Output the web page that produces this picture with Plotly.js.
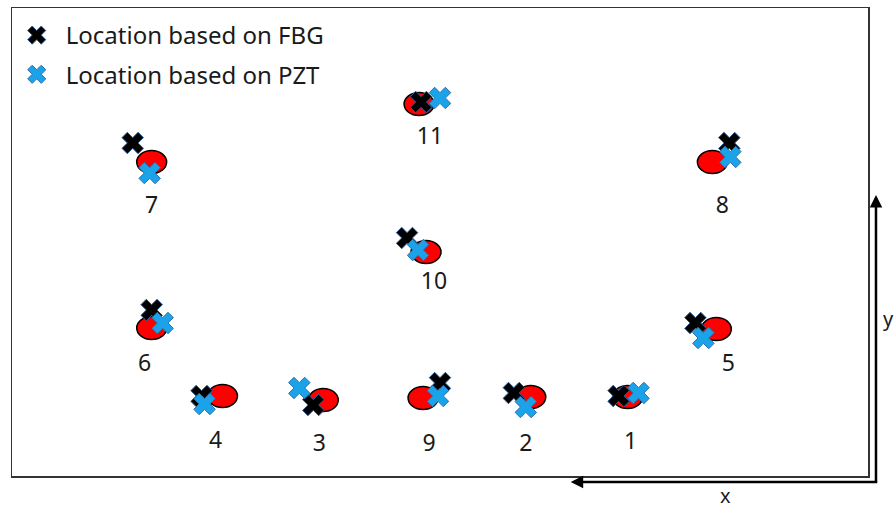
<!DOCTYPE html>
<html>
<head>
<meta charset="utf-8">
<script src="https://cdn.plot.ly/plotly-3.0.1.min.js"></script>
<style>html,body{margin:0;padding:0;background:#fff;}#chart{width:896px;height:509px;}</style>
</head>
<body>
<div id="chart"></div>
<script>
// Impact point numbers
const pointIds = ['1','2','3','4','5','6','7','8','9','10','11'];
// Actual impact locations (red ellipses)
const trueX = [617, 520, 312, 211, 706, 140, 140, 702, 412, 415, 408];
const trueY = [79, 79, 76, 80, 147, 148, 314, 314, 78, 224, 372];
// Location based on FBG
const fbgX = [608, 503, 302, 190, 685, 140, 121, 719, 429, 396, 410];
const fbgY = [80, 83, 71, 80, 153, 166, 333, 333, 93, 238, 374];
// Location based on PZT
const pztX = [628, 515, 288, 193, 693, 151, 138, 720, 427, 407, 429];
const pztY = [83, 69, 88, 72, 138, 153, 303, 319, 80, 226, 378];
// Label anchor positions
const labelX = [620, 515, 308, 204, 718, 133, 140, 712, 418, 423, 419];
const labelY = [33, 31, 31, 34, 111, 111, 269, 269, 31, 193, 338];

const ellW = 15, ellH = 11.5;
const shapes = trueX.map((x, i) => ({
  type: 'circle', xref: 'x', yref: 'y', layer: 'below',
  x0: x - ellW, x1: x + ellW, y0: trueY[i] - ellH, y1: trueY[i] + ellH,
  fillcolor: '#ff0000', line: {color: '#000000', width: 1.5}
}));

const traces = [
  {x: fbgX, y: fbgY, type: 'scatter', mode: 'markers', name: 'Location based on FBG', legendgroup: 'fbg',
   marker: {symbol: 'x', size: 19, color: '#000000', line: {color: '#2a5c9a', width: 1}}},
  {x: pztX, y: pztY, type: 'scatter', mode: 'markers', name: 'Location based on PZT', legendgroup: 'pzt',
   marker: {symbol: 'x', size: 19, color: '#1aa3e8', line: {color: '#2f6fb0', width: 1}}},
  {x: labelX, y: labelY, type: 'scatter', mode: 'text', text: pointIds, showlegend: false,
   textfont: {family: 'Noto Sans, sans-serif', size: 23, color: '#1a1a1a'}, hoverinfo: 'skip'}
];

const layout = {
  width: 896, height: 509,
  margin: {l: 10, r: 28, t: 8, b: 33},
  paper_bgcolor: '#ffffff', plot_bgcolor: '#ffffff',
  showlegend: true,
  legend: {x: -0.005, y: 1 - 5 / 468, xanchor: 'left', yanchor: 'top', bgcolor: 'rgba(0,0,0,0)',
           traceorder: 'grouped', tracegroupgap: 5,
           itemwidth: 48, font: {family: 'Noto Sans, sans-serif', size: 24, color: '#1a1a1a'}},
  xaxis: {range: [0, 858], showgrid: false, zeroline: false, showticklabels: false, ticks: '',
          showline: true, mirror: true, linecolor: '#333333', linewidth: 1.5, fixedrange: true},
  yaxis: {range: [0, 468], showgrid: false, zeroline: false, showticklabels: false, ticks: '',
          showline: true, mirror: true, linecolor: '#333333', linewidth: 1.5, fixedrange: true},
  shapes: shapes,
  annotations: [
    {xref: 'paper', yref: 'paper', x: (570 - 10) / 858, y: -(482 - 476) / 468, ax: 308, ay: 0,
     axref: 'pixel', ayref: 'pixel', text: '', showarrow: true, arrowhead: 2, arrowsize: 1,
     arrowwidth: 2.5, arrowcolor: '#000000'},
    {xref: 'paper', yref: 'paper', x: (876 - 10) / 858, y: (476 - 195) / 468, ax: 0, ay: 289,
     axref: 'pixel', ayref: 'pixel', text: '', showarrow: true, arrowhead: 2, arrowsize: 1,
     arrowwidth: 2.5, arrowcolor: '#000000'},
    {xref: 'paper', yref: 'paper', x: (725 - 10) / 858, y: -(495 - 476) / 468, text: 'x',
     xanchor: 'center', yanchor: 'middle',
     showarrow: false, font: {family: 'Noto Sans, sans-serif', size: 20, color: '#1a1a1a'}},
    {xref: 'paper', yref: 'paper', x: (881 - 10) / 858, y: (476 - 318) / 468, text: 'y',
     xanchor: 'left', yanchor: 'middle',
     showarrow: false, font: {family: 'Noto Sans, sans-serif', size: 20, color: '#1a1a1a'}}
  ]
};

Plotly.newPlot('chart', traces, layout, {displayModeBar: false, staticPlot: true});
</script>
</body>
</html>
